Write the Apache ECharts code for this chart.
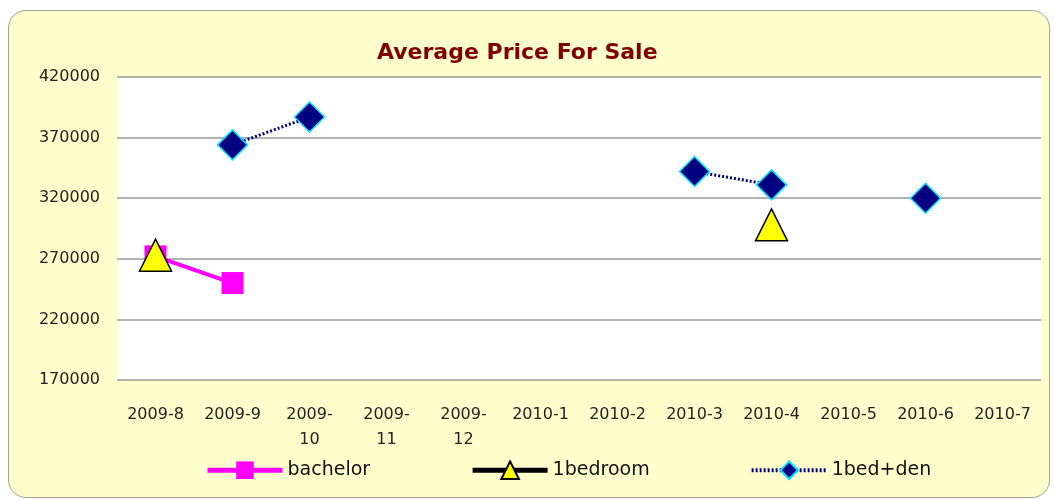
<!DOCTYPE html>
<html>
<head>
<meta charset="utf-8">
<script src="https://cdn.jsdelivr.net/npm/echarts@6/dist/echarts.min.js"></script>
<style>
    html, body { margin: 0; padding: 0; background: #fff; }
    #frame {
        position: absolute; left: 8px; top: 10px; width: 1040px; height: 486px;
        background: #ffffcc; border: 1.5px solid #a0a0a0; border-radius: 18px;
    }
    #chart { position: absolute; left: 0; top: 0; width: 1054px; height: 500px; }
</style>
</head>
<body>
<div id="frame"></div>
<div id="chart"></div>
<script>
const months = ['2009-8', '2009-9', '2009-10', '2009-11', '2009-12', '2010-1',
    '2010-2', '2010-3', '2010-4', '2010-5', '2010-6', '2010-7'];
const bachelor = [272000, 250000, null, null, null, null, null, null, null, null, null, null];
const oneBedroom = [273000, null, null, null, null, null, null, null, 298000, null, null, null];
const oneBedDen = [null, 364000, 387000, null, null, null, null, 342000, 331000, null, 320000, null];

const font = 'DejaVu Sans';

const chart = echarts.init(document.getElementById('chart'));
chart.setOption({
    backgroundColor: 'transparent',
    textStyle: { fontFamily: font },
    title: {
        text: 'Average Price For Sale',
        left: 372,
        top: 37,
        textStyle: { color: '#800000', fontSize: 22, fontWeight: 'bold', fontFamily: font }
    },
    grid: {
        left: 117, right: 13, top: 77, bottom: 120,
        show: true, backgroundColor: '#fff', borderWidth: 0
    },
    legend: {
        bottom: 15,
        left: 200,
        itemGap: 100,
        itemWidth: 75,
        itemHeight: 22,
        textStyle: { fontSize: 19, color: '#111', fontFamily: font },
        data: [
            { name: 'bachelor', lineStyle: { width: 5 } },
            { name: '1bedroom', lineStyle: { width: 5 } },
            { name: '1bed+den', lineStyle: { width: 4 } }
        ]
    },
    xAxis: {
        type: 'category',
        data: months,
        axisLine: { show: false },
        axisTick: { show: false },
        axisLabel: {
            color: '#222', fontSize: 16, margin: 22, lineHeight: 25, interval: 0,
            formatter: v => v.length > 6 ? v.replace('-', '-\n') : v
        }
    },
    yAxis: {
        type: 'value',
        min: 170000, max: 420000, interval: 50000,
        axisLine: { show: false },
        axisTick: { show: false },
        axisLabel: { color: '#222', fontSize: 16, margin: 17, formatter: v => String(v) },
        splitLine: { lineStyle: { color: '#999', width: 1.5 } }
    },
    series: [
        {
            name: 'bachelor', type: 'line', data: bachelor,
            symbol: 'rect', symbolSize: 22,
            itemStyle: { color: '#ff00ff' },
            lineStyle: { color: '#ff00ff', width: 4 }
        },
        {
            name: '1bedroom', type: 'line', data: oneBedroom,
            symbol: 'triangle', symbolSize: [32, 32],
            itemStyle: { color: '#ffff00', borderColor: '#000', borderWidth: 1.5 },
            lineStyle: { color: '#000', width: 4 }
        },
        {
            name: '1bed+den', type: 'line', data: oneBedDen,
            symbol: 'diamond', symbolSize: 30,
            itemStyle: { color: '#000080', borderColor: '#00e5ff', borderWidth: 1.5 },
            lineStyle: { color: '#000080', width: 3, type: [2, 2] }
        }
    ]
});
</script>
</body>
</html>
